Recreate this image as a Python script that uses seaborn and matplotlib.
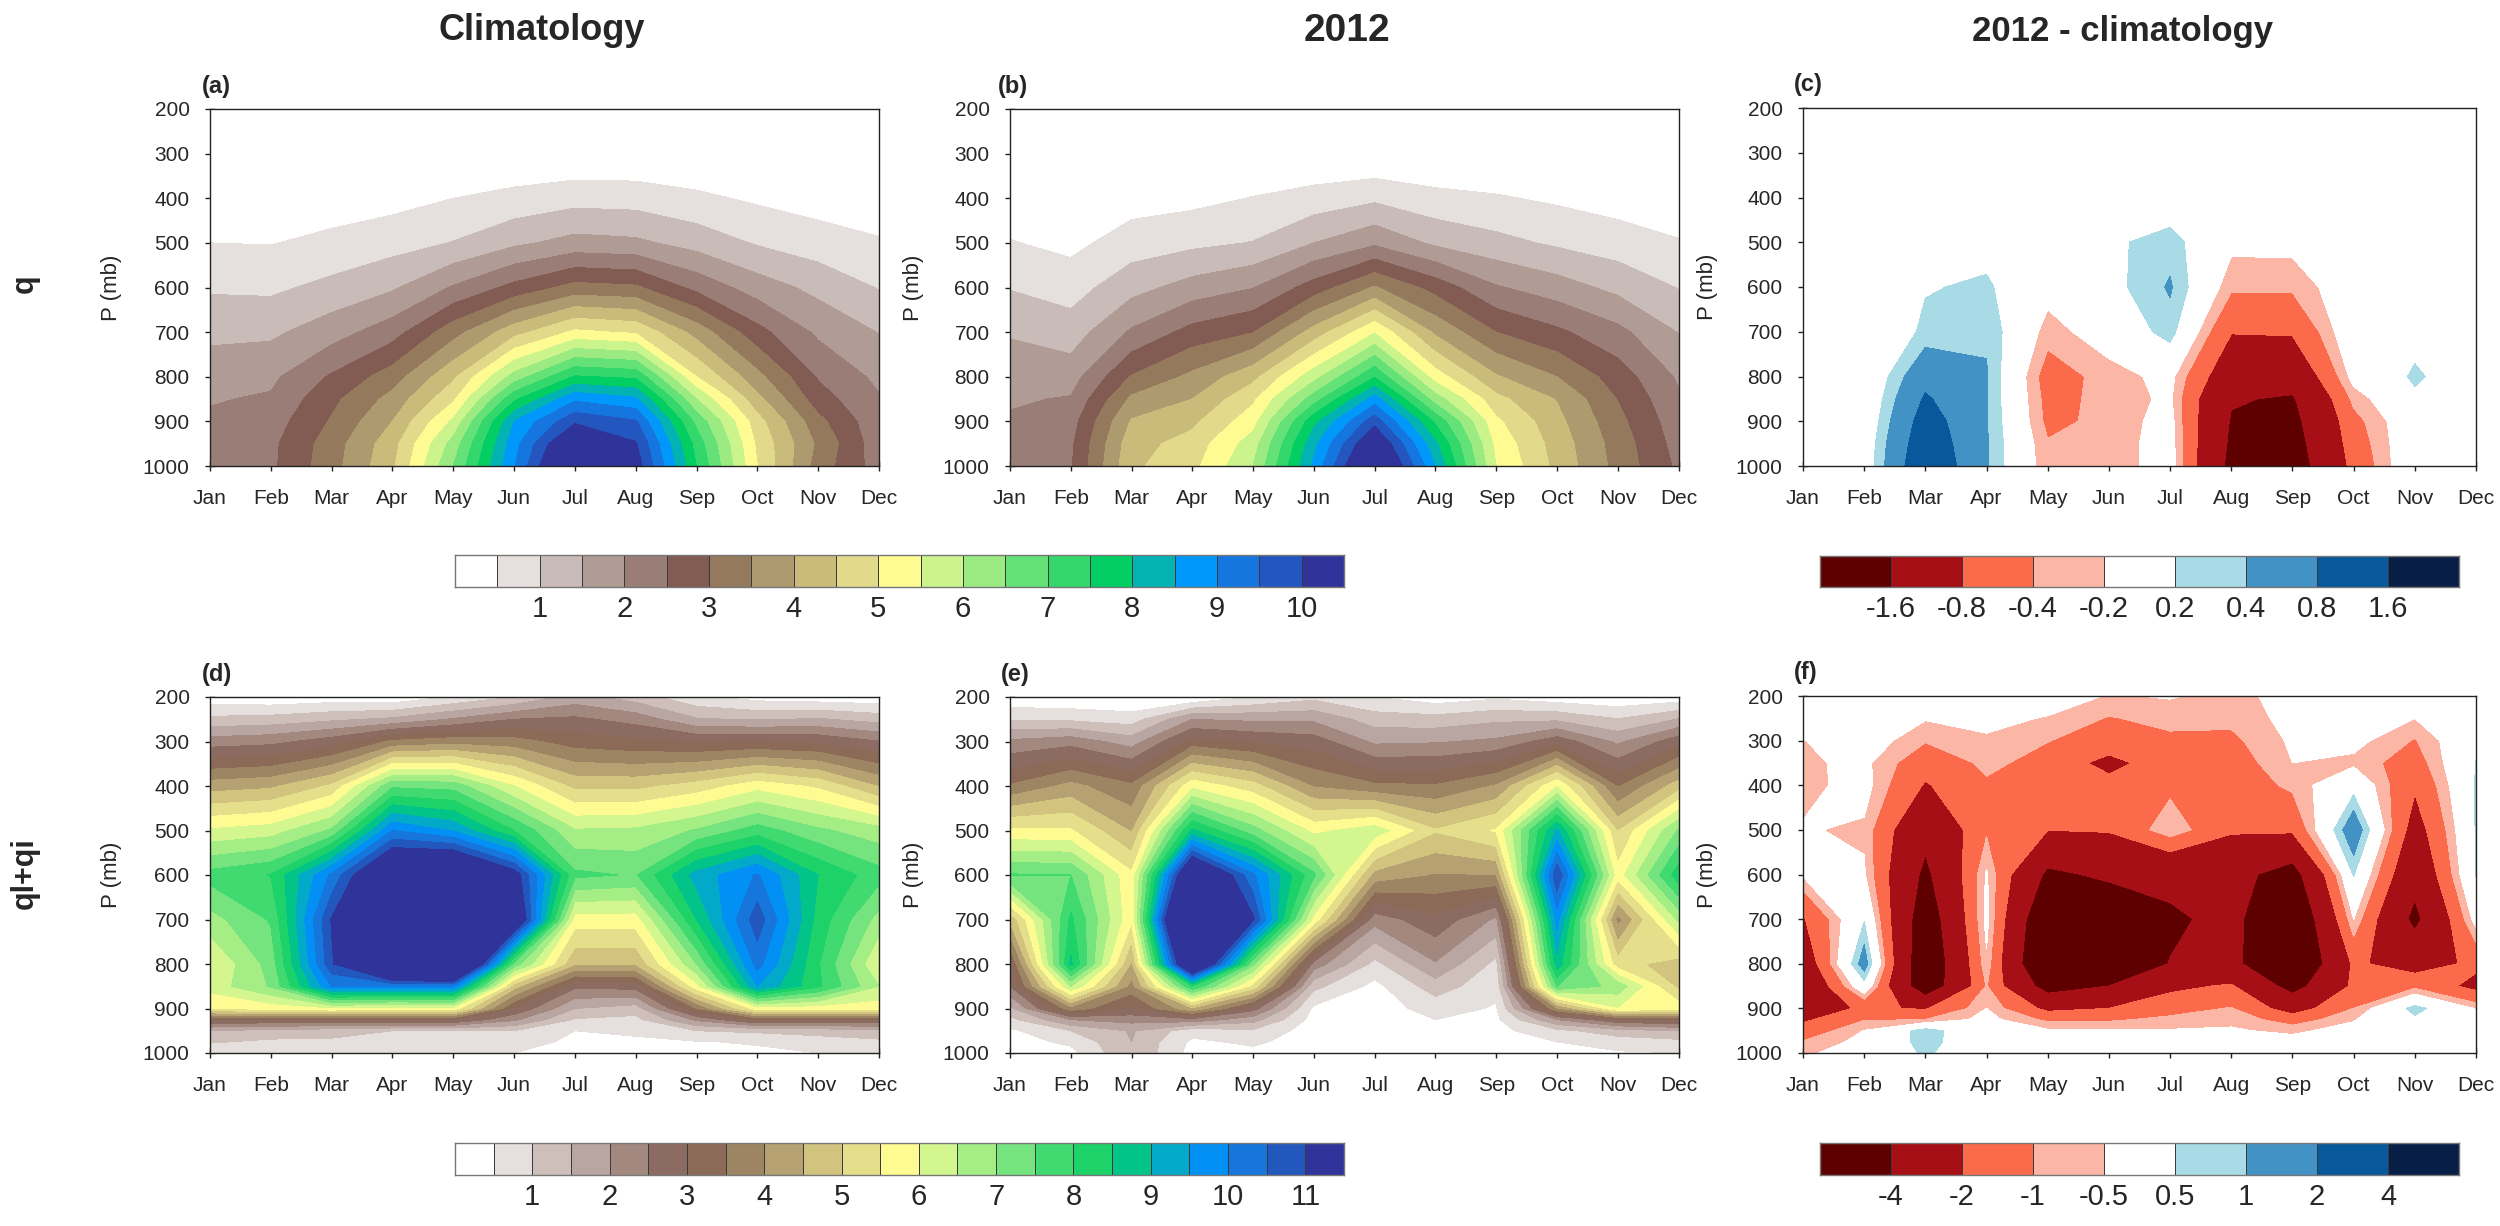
import numpy as np
import matplotlib
matplotlib.use("Agg")
import matplotlib.pyplot as plt
import seaborn as sns
from matplotlib.colors import ListedColormap

MONTHS = ['Jan', 'Feb', 'Mar', 'Apr', 'May', 'Jun', 'Jul', 'Aug', 'Sep', 'Oct', 'Nov', 'Dec']

# pressure levels of each kind of panel (mb)
PLEV_Q = [200, 300, 400, 500, 600, 700, 800, 850, 900, 950, 1000]
PLEV_QI = [200, 250, 300, 400, 500, 600, 700, 800, 850, 900, 925, 950, 975, 1000]
PLEV_QI_DIFF = [200, 250, 300, 350, 400, 500, 600, 700, 800, 850, 900, 925, 950, 975, 1000]

# one profile per month, top to bottom
Q_CLIM = [
    [0, .1, .2, .5, .93, 1.38, 1.77, 1.96, 2.08, 2.2, 2.3],
    [0, .08, .2, .48, .9, 1.4, 1.89, 2.06, 2.26, 2.38, 2.4],
    [0, .1, .25, .62, 1.14, 1.78, 2.56, 2.87, 3.05, 3.25, 3.3],
    [0, .1, .32, .8, 1.43, 2.28, 3.25, 3.67, 4.0, 4.3, 4.4],
    [0, .1, .5, 1.02, 2.05, 3.3, 4.4, 4.9, 5.6, 6.2, 6.5],
    [0, .05, .65, 1.4, 2.65, 4.3, 6.2, 7.4, 8.5, 8.8, 8.95],
    [0, .05, .81, 1.67, 3.17, 5.1, 7.55, 8.9, 9.9, 10.9, 11.5],
    [0, .05, .78, 1.6, 3.08, 4.93, 7.4, 8.6, 9.55, 10.05, 10.3],
    [0, .05, .6, 1.3, 2.35, 3.8, 5.0, 6.0, 6.85, 7.3, 7.5],
    [0, .05, .42, .95, 1.75, 2.67, 3.65, 4.15, 4.7, 4.9, 5.0],
    [0, .05, .28, .73, 1.35, 1.9, 2.45, 2.72, 3.15, 3.4, 3.27],
    [0, .05, .2, .55, .97, 1.48, 1.88, 2.05, 2.13, 2.2, 2.25],
]
Q_2012 = [
    [0, .03, .18, .53, .97, 1.45, 1.78, 1.94, 2.06, 2.15, 2.25],
    [0, .03, .12, .36, .78, 1.24, 1.77, 2.04, 2.28, 2.4, 2.45],
    [0, .05, .28, .74, 1.32, 2.07, 3.03, 3.6, 4.05, 4.3, 4.4],
    [0, .05, .36, .88, 1.7, 2.68, 3.62, 4.0, 4.38, 4.7, 4.85],
    [0, .02, .52, 1.02, 1.98, 2.98, 4.35, 4.9, 5.3, 5.75, 6.0],
    [0, .02, .7, 1.5, 2.72, 4.2, 5.8, 6.75, 7.85, 8.35, 8.6],
    [0, 0, .9, 1.9, 3.55, 5.45, 7.46, 8.73, 9.8, 10.7, 11.3],
    [0, .02, .65, 1.4, 2.8, 3.9, 5.25, 6.25, 7.4, 8.1, 8.5],
    [0, .02, .55, 1.15, 2.05, 3.0, 4.05, 4.65, 5.1, 5.35, 5.5],
    [0, .05, .42, .92, 1.73, 2.6, 3.5, 3.97, 4.15, 4.28, 4.35],
    [0, .05, .28, .74, 1.36, 2.14, 2.76, 2.98, 3.15, 3.28, 3.33],
    [0, .03, .15, .54, .98, 1.48, 1.93, 2.08, 2.2, 2.3, 2.4],
]
Q_DIFF = [
    [0, 0, 0, 0, 0, 0, 0, 0, 0, 0, 0],
    [0, 0, 0, 0, -.05, -.15, -.1, -.08, -.05, 0, 0],
    [0, 0, 0, .05, .18, .26, .66, .85, 1.0, 1.1, 1.2],
    [0, 0, 0, .1, .24, .37, .42, .41, .42, .42, .42],
    [0, 0, 0, 0, -.1, -.3, -.55, -.5, -.47, -.38, -.35],
    [0, 0, 0, .15, .1, -.05, -.3, -.32, -.33, -.33, -.35],
    [0, 0, 0, .3, .43, .3, -.12, -.15, -.1, -.07, -.05],
    [0, 0, 0, -.13, -.35, -.78, -1.2, -1.55, -1.65, -1.72, -1.8],
    [0, 0, 0, -.12, -.35, -.75, -1.3, -1.67, -1.8, -1.9, -2.0],
    [0, 0, 0, 0, 0, .05, -.1, -.33, -.5, -.58, -.66],
    [0, 0, 0, 0, 0, .1, .24, .15, .05, .06, .08],
    [0, 0, 0, 0, 0, 0, 0, 0, 0, 0, 0],
]
QI_CLIM = [
    [.2, 1.12, 2.24, 4.26, 6.07, 7.7, 6.8, 5.98, 6.2, 5.5, 3.0, 1.5, 1.05, .55],
    [.1, 1.2, 2.35, 4.4, 6.25, 8.02, 7.55, 7.2, 7.05, 5.7, 3.0, 1.3, .9, .6],
    [.2, 1.4, 2.75, 5.08, 7.08, 10.1, 11.05, 10.9, 10.0, 5.9, 3.0, 1.2, .9, .6],
    [.1, 1.6, 3.6, 7.4, 10.0, 12.6, 14, 14, 10.0, 5.75, 3.0, 1.0, .8, .65],
    [.55, 2.05, 3.8, 7.3, 9.45, 13, 14.5, 14.5, 10.0, 5.8, 3.0, 1.0, .8, .65],
    [1.0, 2.5, 3.7, 6.0, 8.0, 11.4, 12.3, 7.3, 4.7, 2.95, 2.1, 1.0, .7, .5],
    [1.7, 2.6, 3.25, 4.85, 6.55, 7.62, 5.75, 4.55, 2.6, 1.5, .95, .5, .4, .35],
    [1.25, 2.3, 3.1, 4.85, 6.6, 7.45, 5.75, 4.55, 2.7, 1.25, .85, .55, .45, .4],
    [.6, 1.55, 2.95, 5.2, 7.05, 9.2, 8.5, 7.0, 5.8, 3.5, 2.1, 1.0, .47, .4],
    [.3, 1.45, 3.0, 5.8, 7.75, 10.05, 10.8, 10.2, 9.5, 5.75, 3.1, 1.1, .55, .4],
    [.2, 1.55, 2.9, 5.4, 7.1, 8.5, 8.3, 8.05, 8.1, 5.7, 3.0, 1.2, .75, .5],
    [.15, 1.3, 2.52, 4.46, 6.7, 7.7, 6.8, 6.0, 6.5, 5.7, 3.0, 1.3, .9, .5],
]
QI_2012 = [
    [.1, .95, 2.1, 3.55, 5.6, 7.55, 4.6, 2.9, 2.5, 1.35, .85, .4, .3, .25],
    [.05, .9, 2.3, 4.15, 5.55, 7.5, 8.1, 8.6, 6.5, 3.8, 2.0, 1.0, .6, .34],
    [0, .75, 1.75, 3.6, 4.45, 5.6, 5.6, 4.4, 3.8, 2.9, 2.2, 1.55, 1.5, 1.5],
    [0, 2.0, 3.2, 5.85, 8.6, 12.7, 15.5, 13.2, 8.0, 4.4, 2.3, .7, .4, .3],
    [.5, 1.9, 2.95, 5.2, 7.2, 10.1, 11.1, 7.1, 5.3, 2.7, 1.7, .9, .6, .35],
    [.85, 1.9, 2.75, 3.95, 5.85, 7.6, 5.8, 2.3, 1.15, .4, .3, .25, .2, .2],
    [.5, 1.25, 1.9, 3.6, 6.3, 4.3, 2.2, .85, .35, .25, .2, .2, .15, .15],
    [.2, 1.2, 1.95, 3.55, 5.04, 3.95, 2.85, 1.95, 1.25, .7, .5, .35, .3, .25],
    [.4, 1.4, 2.1, 4.05, 5.55, 4.0, 1.9, .85, .65, .45, .4, .35, .3, .3],
    [.2, 1.4, 2.8, 5.95, 9.1, 10.95, 9.7, 8.8, 7.5, 3.9, 2.0, .85, .5, .4],
    [.1, 1.02, 1.9, 3.45, 4.95, 5.7, 3.8, 5.2, 6.8, 5.95, 2.9, 1.3, .7, .45],
    [.2, 1.52, 2.8, 4.75, 7.05, 8.3, 6.6, 4.75, 4.85, 5.8, 3.1, 1.5, .85, .5],
]
QI_DIFF = [
    [0, -.2, -.52, -.6, -.68, -.45, -.42, -2.1, -3, -3.6, -2.6, -2.2, -1.5, -.95, -.6],
    [0, 0, -.1, -.35, -.25, -.6, -.42, .45, 1.4, .2, -1.85, -1.05, -.48, -.3, -.2],
    [0, -.45, -.95, -1.55, -2.1, -3.5, -4.4, -5.25, -5.7, -5.4, -2.1, -1.0, .8, .75, .6],
    [0, -.3, -.6, -.85, -1.1, -1.1, -.42, -.3, -.6, -.95, -.5, -.3, -.2, -.15, -.1],
    [-.1, -.55, -.98, -1.25, -1.5, -1.98, -4.35, -6, -6.5, -4.8, -2.3, -1.15, -.4, -.3, -.2],
    [-.55, -1.05, -1.3, -2.4, -1.6, -1.9, -3.7, -5.5, -5.5, -4, -2.0, -1.1, -.45, -.3, -.2],
    [-.45, -.8, -1.15, -1.3, -1.2, -.55, -3.5, -4.3, -3.95, -2.3, -1.3, -.85, -.45, -.3, -.2],
    [-.7, -.85, -1.15, -1.4, -1.5, -1.85, -3.4, -3.5, -3.5, -1.85, -.95, -.6, -.45, -.3, -.2],
    [-.25, -.3, -.4, -.5, -.85, -1.8, -4.8, -6, -6.2, -4.7, -2.6, -1.4, -.6, -.3, -.25],
    [0, -.1, -.3, -.65, .2, 1.6, .55, -.5, -1.8, -1.75, -1.0, -.55, -.3, -.2, -.1],
    [-.05, -.5, -1.05, -1.4, -1.85, -2.6, -3.4, -4.45, -2.6, -1.2, .75, .35, .2, .1, .05],
    [0, 0, .3, .52, .55, .55, .53, -.2, -1.75, -2.35, -.55, -.3, -.2, -.1, -.05],
]

LEVELS_Q = [.5, 1, 1.5, 2, 2.5, 3, 3.5, 4, 4.5, 5, 5.5, 6, 6.5, 7, 7.5, 8, 8.5, 9, 9.5, 10]
LEVELS_QI = LEVELS_Q + [10.5, 11]
LEVELS_DQ = [-1.6, -.8, -.4, -.2, .2, .4, .8, 1.6]
LEVELS_DQI = [-4, -2, -1, -.5, .5, 1, 2, 4]

COLORS_Q = ['#ffffff', '#e5e0dd', '#c9bbb7', '#b09c94', '#9a7d76', '#825c53', '#95795d', '#ad9a6e',
            '#cbbb7b', '#e2da8a', '#fdfb92', '#ccf48d', '#9beb82', '#64e278', '#33d76c', '#03ce64',
            '#03b3b3', '#0099fb', '#1676e0', '#2357bf', '#30339a']
COLORS_QI = ['#ffffff', '#e5e0dd', '#cfbfbb', '#b9a5a1', '#a38880', '#8c6c62', '#8b6a58', '#9d8462',
             '#b6a172', '#d2c47f', '#e5de8a', '#fdfb92', '#d3f68e', '#a5ee85', '#75e47e', '#41da70',
             '#1dd268', '#03c488', '#03a9c8', '#0390f5', '#1676dc', '#2257bd', '#30339a']
COLORS_DIFF = ['#5f0000', '#a50f15', '#fb6a4a', '#fcb6a5', '#ffffff', '#a8dbe5', '#4292c6', '#08589c', '#071e46']

W, H = 2500, 1226


def box(left, top, right, bottom):
    return [left / W, 1 - bottom / H, (right - left) / W, (bottom - top) / H]


def draw_panel(rect, plev, profiles, levels, colors, letter, letter_xy, ylabel_x):
    ax = fig.add_axes(box(*rect))
    values = np.array(profiles, dtype=float).T
    ax.contourf(np.arange(12), plev, values, levels=levels, colors=colors, extend='both')
    ax.set_xlim(0, 11)
    ax.set_ylim(1000, 200)
    ax.set_xticks(np.arange(12), MONTHS)
    ax.set_yticks(np.arange(200, 1001, 100))
    ax.tick_params(direction='inout', length=7.5, width=1, labelsize=15, color='#222222')
    ax.tick_params(axis='x', pad=12.5)
    ax.tick_params(axis='y', pad=11)
    for spine in ax.spines.values():
        spine.set_linewidth(1)
        spine.set_color('#222222')
    fig.text(letter_xy[0] / W, 1 - letter_xy[1] / H, letter, fontsize=17, fontweight='bold',
             ha='left', va='center')
    fig.text(ylabel_x / W, 1 - (rect[1] + rect[3]) / 2 / H, 'P (mb)', fontsize=16, rotation=90,
             ha='center', va='center')
    return ax


def draw_colorbar(rect, colors, levels, labels):
    cax = fig.add_axes(box(*rect))
    n = len(colors)
    sns.heatmap(np.arange(n).reshape(1, n), cmap=ListedColormap(colors), cbar=False, ax=cax,
                linewidths=.6, linecolor='#3a3a3a', vmin=0, vmax=n - 1)
    cax.set_yticks([])
    ticks = [i + 1 for i, lev in enumerate(levels) if lev in labels]
    cax.set_xticks(ticks, [f'{lev:g}' for lev in levels if lev in labels], rotation=0)
    cax.tick_params(axis='x', length=0, labelsize=21, pad=6)
    for spine in cax.spines.values():
        spine.set_visible(True)
        spine.set_color('#777777')
        spine.set_linewidth(1)


sns.set_theme(style='ticks')
plt.rcParams['font.family'] = ['Liberation Sans', 'DejaVu Sans']

fig = plt.figure(figsize=(25, 12.26), dpi=100)

X_LEFT = (210, 879)
X_MID = (1010, 1678.5)
X_RIGHT = (1803, 2476)

draw_panel((X_LEFT[0], 109, X_LEFT[1], 466), PLEV_Q, Q_CLIM, LEVELS_Q, COLORS_Q, '(a)', (202, 87), 112)
draw_panel((X_MID[0], 109, X_MID[1], 466), PLEV_Q, Q_2012, LEVELS_Q, COLORS_Q, '(b)', (998, 87), 913)
draw_panel((X_RIGHT[0], 108, X_RIGHT[1], 466), PLEV_Q, Q_DIFF, LEVELS_DQ, COLORS_DIFF, '(c)', (1794, 85), 1708)
draw_panel((X_LEFT[0], 697, X_LEFT[1], 1053), PLEV_QI, QI_CLIM, LEVELS_QI, COLORS_QI, '(d)', (202, 674), 112)
draw_panel((X_MID[0], 697, X_MID[1], 1053), PLEV_QI, QI_2012, LEVELS_QI, COLORS_QI, '(e)', (1001, 674), 913)
draw_panel((X_RIGHT[0], 696, X_RIGHT[1], 1053), PLEV_QI_DIFF, QI_DIFF, LEVELS_DQI, COLORS_DIFF, '(f)', (1794, 672), 1708)

INT_LABELS_Q = [1, 2, 3, 4, 5, 6, 7, 8, 9, 10]
draw_colorbar((455, 555, 1344, 587), COLORS_Q, LEVELS_Q, INT_LABELS_Q)
draw_colorbar((455, 1143, 1344, 1175), COLORS_QI, LEVELS_QI, INT_LABELS_Q + [11])
draw_colorbar((1820, 556, 2459, 587), COLORS_DIFF, LEVELS_DQ, LEVELS_DQ)
draw_colorbar((1820, 1143, 2459, 1175), COLORS_DIFF, LEVELS_DQI, LEVELS_DQI)

for text, x, size in zip(['Climatology', '2012', '2012 - climatology'], [542, 1347, 2123], [26, 28, 25]):
    fig.text(x / W, 1 - 31 / H, text, fontsize=size, fontweight='bold', ha='center', va='center')
for text, y in zip(['q', 'ql+qi'], [284, 873]):
    fig.text(25 / W, 1 - y / H, text, fontsize=22, fontweight='bold', rotation=90, ha='center', va='center')

fig.savefig('out.png', dpi=100)
